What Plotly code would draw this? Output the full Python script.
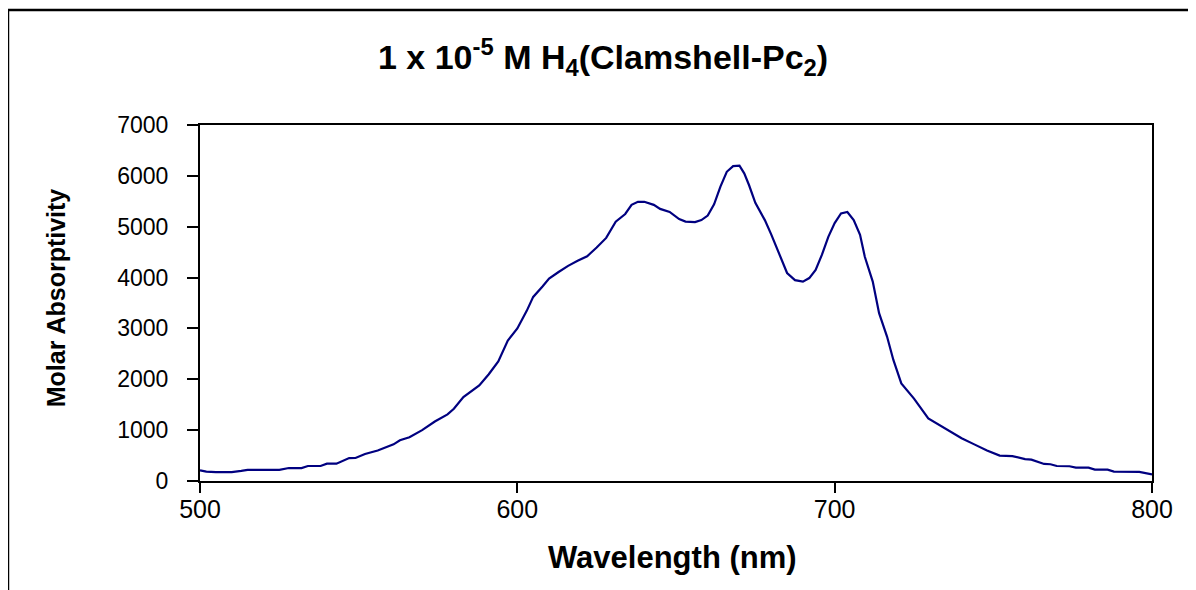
import plotly.graph_objects as go

wavelength = [500, 502, 505, 510, 513, 515, 525, 528, 532, 534, 538, 540, 543, 547, 549,
              552, 556, 561, 563, 566, 570, 574, 578, 580, 583, 588, 591, 594, 597, 600,
              603, 605, 608, 610, 613, 616, 619, 622, 625, 628, 631, 634, 636, 638, 640,
              643, 645, 648, 651, 653, 656, 658, 660, 662, 664, 666, 668, 670, 671.5, 673,
              675, 678, 680, 683, 685, 687.5, 690, 692, 694, 696, 698, 700, 702, 704, 706,
              708, 709.5, 712, 714, 716.5, 718.5, 721, 725, 729.5, 735, 740, 744, 748, 752,
              756, 760, 762, 766, 768, 770, 774, 776, 780, 782, 786, 788, 796, 800]
absorptivity = [210, 185, 175, 175, 200, 220, 220, 255, 255, 295, 295, 340, 340, 450, 452,
                530, 600, 720, 800, 860, 1000, 1170, 1310, 1420, 1650, 1880, 2100, 2350, 2760, 3000,
                3350, 3620, 3830, 3980, 4110, 4230, 4330, 4420, 4590, 4780, 5100, 5250, 5430, 5490, 5490,
                5430, 5350, 5290, 5150, 5100, 5090, 5130, 5220, 5440, 5790, 6080, 6190, 6200, 6050, 5820,
                5470, 5130, 4850, 4410, 4090, 3950, 3920, 3990, 4150, 4450, 4800, 5070, 5260, 5290, 5130,
                4840, 4410, 3920, 3300, 2840, 2380, 1920, 1620, 1230, 1020, 840, 720, 600, 500,
                490, 430, 420, 335, 330, 295, 290, 262, 262, 225, 222, 185, 180, 130]

x_ticks = [500, 600, 700, 800]
y_ticks = [0, 1000, 2000, 3000, 4000, 5000, 6000, 7000]

title_text = "1 x 10<sup>-5</sup> M H<sub>4</sub>(Clamshell-Pc<sub>2</sub>)"
x_title = "Wavelength (nm)"
y_title = "Molar Absorptivity"

FONT = "Liberation Sans, Arial, sans-serif"

fig = go.Figure()
fig.add_trace(go.Scatter(x=wavelength, y=absorptivity, mode="lines",
                         line=dict(color="#000080", width=2.2), showlegend=False,
                         hoverinfo="skip"))

fig.update_layout(
    width=1188, height=582,
    margin=dict(l=192, r=44, t=117, b=109),
    paper_bgcolor="white", plot_bgcolor="white",
    font=dict(family=FONT, color="black"),
    xaxis=dict(range=[500, 800], tickvals=x_ticks, showgrid=False, zeroline=False,
               showline=True, linecolor="black", linewidth=2, mirror=True,
               ticks="outside", ticklen=10, tickwidth=2, tickcolor="black",
               tickfont=dict(size=25, family=FONT), ticklabelstandoff=-5),
    yaxis=dict(range=[0, 7000], tickvals=y_ticks, showgrid=False, zeroline=False,
               showline=True, linecolor="black", linewidth=2, mirror=True,
               ticks="outside", ticklen=11, tickwidth=2, tickcolor="black",
               tickfont=dict(size=23, family=FONT), ticklabelstandoff=14),
    annotations=[
        dict(text="<b>" + title_text + "</b>", xref="paper", yref="paper",
             x=0.4233, y=1.191, xanchor="center", yanchor="middle", showarrow=False,
             font=dict(size=34, family=FONT)),
        dict(text="<b>" + x_title + "</b>", xref="paper", yref="paper",
             x=0.496, y=-0.2135, xanchor="center", yanchor="middle", showarrow=False,
             font=dict(size=31, family=FONT)),
        dict(text="<b>" + y_title + "</b>", xref="paper", yref="paper",
             x=-0.151, y=0.514, xanchor="center", yanchor="middle", showarrow=False,
             textangle=-90, font=dict(size=25, family=FONT)),
    ],
    shapes=[dict(type="rect", xref="paper", yref="paper",
                 x0=-0.2017, x1=1.06, y0=-0.35, y1=1.323,
                 line=dict(color="black", width=2.5), layer="below")],
)

fig.write_html("out.html")
